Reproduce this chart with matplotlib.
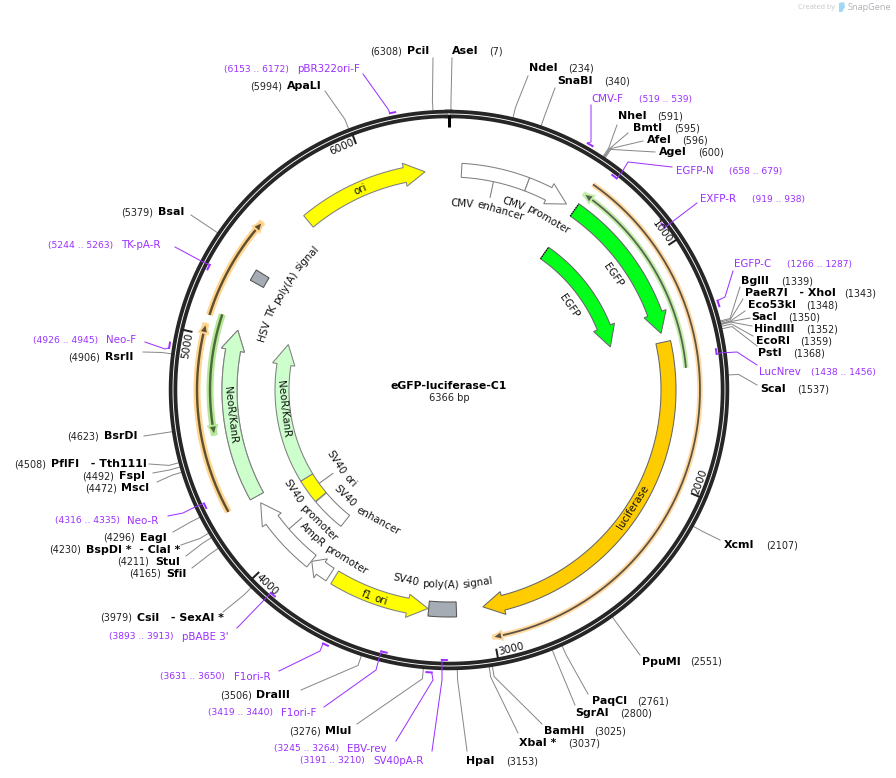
import numpy as np
import matplotlib
matplotlib.use("Agg")
import matplotlib.pyplot as plt
from matplotlib.font_manager import FontProperties
from matplotlib.patches import Polygon
from matplotlib.textpath import TextToPath

total_bp = 6366
plasmid_name = "eGFP-luciferase-C1"

# restriction sites
site_names = ["PciI", "AseI", "NdeI", "SnaBI", "NheI", "BmtI", "AfeI", "AgeI", "BglII",
              "PaeR7I   - XhoI", "Eco53kI", "SacI", "HindIII", "EcoRI", "PstI", "ScaI",
              "XcmI", "PpuMI", "PaqCI", "SgrAI", "BamHI", "XbaI *", "HpaI", "MluI", "DraIII",
              "CsiI   - SexAI *", "SfiI", "StuI", "BspDI *  - ClaI *", "EagI", "MscI", "FspI",
              "PflFI   - Tth111I", "BsrDI", "RsrII", "BsaI", "ApaLI"]
site_bp = [6308, 7, 234, 340, 591, 595, 596, 600, 1339, 1343, 1348, 1350, 1352, 1359, 1368,
           1537, 2107, 2551, 2761, 2800, 3025, 3037, 3153, 3276, 3506, 3979, 4165, 4211,
           4230, 4296, 4472, 4492, 4508, 4623, 4906, 5379, 5994]
site_name_x = [407, 452, 529, 557, 618, 633, 647, 659, 741, 745, 748, 751, 754, 756, 758,
               760, 724, 642, 592, 575, 544, 519, 466, 325, 256, 137, 166, 155, 86, 140,
               121, 119, 51, 104, 105, 158, 287]
site_num_x = [370, 489, 568, 604, 657, 674, 682, 698, 781, 844, 806, 788, 806, 800, 793,
              797, 766, 690, 637, 620, 594, 568, 506, 289, 220, 100, 129, 117, 49, 103,
              85, 82, 14, 67, 68, 121, 250]
site_y = [51, 51, 68, 81, 116, 128, 140, 152, 281, 293, 305, 317, 329, 341, 353, 389, 545,
          662, 701, 713, 731, 743, 761, 731, 695, 618, 574, 562, 550, 538, 488, 476, 464,
          436, 357, 212, 86]
site_end_x = [433, 452, 528, 555, 617, 628, 643, 655, 740, 743, 745, 750, 752, 753, 757,
              757, 720, 640, 588, 575, 542, 518, 467, 357, 301, 223, 192, 186, 181, 173,
              157, 153, 149, 144, 143, 191, 325]
site_end_y = [58, 58, 76, 88, 125, 133, 141, 152, 287, 299, 311, 318, 326, 336, 346, 385,
              540, 655, 694, 705, 724, 733, 751, 724, 690, 612, 568, 556, 545, 532, 482,
              473, 464, 436, 352, 215, 91]

# primers
primer_names = ["pBR322ori-F", "CMV-F", "EGFP-N", "EXFP-R", "EGFP-C", "LucNrev", "Neo-F",
                "TK-pA-R", "Neo-R", "pBABE 3'", "F1ori-R", "F1ori-F", "EBV-rev", "SV40pA-R"]
primer_start = [6153, 519, 658, 919, 1266, 1438, 4926, 5244, 4316, 3893, 3631, 3419, 3245, 3191]
primer_end = [6172, 539, 679, 938, 1287, 1456, 4945, 5263, 4335, 3913, 3650, 3440, 3264, 3210]
primer_name_x = [297, 591, 676, 700, 734, 759, 106, 121, 127, 182, 234, 281, 347, 373]
primer_range_x = [224, 639, 729, 752, 787, 811, 33, 48, 55, 109, 160, 208, 274, 300]
primer_y = [69, 99, 171, 199, 264, 372, 340, 245, 521, 637, 677, 713, 749, 761]
primer_r = [283, 283, 270, 270, 283, 270, 283, 270, 270, 270, 283, 270, 283, 270]
primer_leaders = [[(363, 74), (388, 109)], [(591, 105), (591, 142)],
                  [(672, 167), (628, 162), (622, 172)], [(697, 203), (672, 222)],
                  [(733, 271), (725, 297)], [(757, 365), (737, 352), (720, 353)],
                  [(145, 342), (165, 349)], [(175, 247), (203, 262)],
                  [(168, 516), (183, 513), (197, 506)], [(237, 628), (267, 597)],
                  [(279, 671), (320, 651)], [(324, 707), (376, 670), (380, 655)],
                  [(396, 741), (433, 680)], [(432, 751), (442, 680), (442, 662)]]

# features on the map, from tail to tip
feature_tail = [58, 368, 617, 617, 1369, 3149, 3738, 3763, 3869, 3862, 4070, 4216, 4263, 4263,
                5286, 5662]
feature_tip = [368, 571, 1327, 1327, 3026, 3277, 3280, 3867, 4228, 4067, 4216, 5054, 5054, 5054,
               5339, 6255]
feature_has_head = [False, True, True, True, True, False, True, True, True, False, False,
                    True, True, True, False, True]
feature_r_in = [213, 213, 212, 160, 212, 212, 212, 212, 212, 160, 160, 160, 212, 212, 212, 212]
feature_r_out = [227, 227, 227, 174, 227, 227, 227, 227, 227, 174, 174, 174, 227, 227, 227, 227]
feature_color = ["white", "white", "#00ff19", "#00ff19", "#ffcc00", "#a6acb3", "#ffff00", "white",
                 "white", "white", "#ffff00", "#ccffcc", "#ccffcc", "#ccffcc", "#a6acb3", "#ffff00"]
feature_edge = ["#808080", "#808080", "#666666", "#666666", "#666666", "#555555", "#808080",
                "#808080", "#808080", "#808080", "#808080", "#808080", "#808080", "#808080",
                "#555555", "#808080"]
dotted_tails = [617]

# thin arcs with halo, from tail to tip
thin_tail = [619, 5082, 4263, 1497, 5101]
thin_tip = [3008, 5519, 5047, 608, 4580]
thin_r = [251, 251, 252, 238, 239]
thin_halo = ["#ffd9a0", "#ffd590", "#ffd590", "#c4eda8", "#b5e898"]
thin_core = ["#5f5443", "#5f5030", "#5f5030", "#556650", "#4f6a3a"]
thin_halo_w = [5.5, 7, 7, 5.5, 7]
thin_core_w = [1.8, 2.4, 2.4, 1.8, 2.4]

# labels following the circle
curve_labels = ["CMV enhancer", "CMV promoter", "EGFP", "EGFP", "luciferase", "ori",
                "HSV TK poly(A) signal", "NeoR/KanR", "NeoR/KanR", "SV40 ori", "SV40 enhancer",
                "SV40 promoter", "AmpR promoter", "f1 ori", "SV40 poly(A) signal"]
curve_angle = [12, 26.4, 55, 55, 122.5, 336, 301, 263.5, 263.5, 233.7, 214.4, 229, 216, 199.7, 181.8]
curve_r = [187, 197.7, 201, 147, 218, 220, 194, 219, 166, 134, 148, 185, 198, 220, 194]

# labels pointing from features
stem_bp = [213, 4143, 4050]
stem_r_from = [213, 160, 212]
stem_r_to = [197, 143, 195]

tick_bp = [1000, 2000, 3000, 4000, 5000, 6000]

cx, cy = 449, 390
RING_GREY = "#888888"
PURPLE = "#9b30ff"
PX = 72 / 100  # points per pixel at dpi 100

fig = plt.figure(figsize=(8.96, 7.78), dpi=100)
ax = fig.add_axes([0, 0, 1, 1])
ax.set_xlim(0, 896)
ax.set_ylim(778, 0)
ax.axis("off")


def bp_angle(bp):
    return np.radians(np.asarray(bp, dtype=float) / total_bp * 360)


def polar(bp, r):
    a = bp_angle(bp)
    return cx + r * np.sin(a), cy - r * np.cos(a)


def arc_xy(bp0, bp1, r, n=80):
    return polar(np.linspace(bp0, bp1, n), r)


def draw_feature(tail, tip, r_in, r_out, head, color, edge):
    r_mid = (r_in + r_out) / 2
    span = abs(tip - tail) / total_bp * 2 * np.pi * r_mid
    sign = 1 if tip > tail else -1
    head_px = min(20.5, span / 2) if head else 0
    base = tip - sign * head_px / (2 * np.pi * r_mid) * total_bp
    xo, yo = arc_xy(tail, base, r_out)
    xi, yi = arc_xy(base, tail, r_in)
    pts = list(zip(xo, yo))
    if head:
        pts.append(polar(base, r_out + 4.5))
        pts.append(polar(tip, r_mid))
        pts.append(polar(base, r_in - 4))
    pts += list(zip(xi, yi))
    ax.add_patch(Polygon(pts, closed=True, fc=color, ec=edge, lw=0.75, zorder=3))


def draw_thin(tail, tip, r, halo, core, halo_w, core_w):
    sign = 1 if tip > tail else -1
    x, y = arc_xy(tail, tip, r, 200)
    ax.plot(x, y, color=halo, lw=halo_w * PX, solid_capstyle="butt", zorder=2)
    base = tip - sign * 10 / (2 * np.pi * r) * total_bp
    neck = tip - sign * 8 / (2 * np.pi * r) * total_bp
    x2, y2 = arc_xy(tail, neck, r, 200)
    ax.plot(x2, y2, color=core, lw=core_w * PX, solid_capstyle="butt", zorder=3)
    pts = [polar(base, r + 4.5), polar(tip, r), polar(base, r - 4.5)]
    ax.add_patch(Polygon(pts, closed=True, fc=core, ec=halo, lw=1.4, zorder=3, joinstyle="miter"))


ttp = TextToPath()


def text_px(s, size):
    w, _, _ = ttp.get_text_width_height_descent(s, FontProperties(family="DejaVu Sans", size=size), False)
    return w / PX


def curved_label(s, angle, r, size=7.4, color="#111111"):
    # one straight piece per word, each turned to the circle
    flip = 90 < angle % 360 < 270
    full = text_px(s, size)
    pos = 0
    for word in s.split(" "):
        start = text_px(s[:pos], size) if pos else 0
        mid = start + text_px(word, size) / 2 - full / 2
        da = np.degrees(mid / r)
        th = angle - da if flip else angle + da
        base_off = 0.36 * size / PX
        rb = r + base_off if flip else r - base_off
        x = cx + rb * np.sin(np.radians(th))
        y = cy - rb * np.cos(np.radians(th))
        rot = 180 - th if flip else -th
        ax.text(x, y, word, fontsize=size, color=color, ha="center", va="baseline",
                rotation=rot, rotation_mode="anchor", zorder=6)
        pos += len(word) + 1


# ring
ring_a = np.linspace(0, 2 * np.pi, 720)
ax.plot(cx + 276 * np.sin(ring_a), cy - 276 * np.cos(ring_a), color="#262626", lw=8.5 * PX, zorder=4)
ax.plot(cx + 276 * np.sin(ring_a), cy - 276 * np.cos(ring_a), color="white", lw=0.9 * PX, zorder=4)

# ticks
x0, y0 = polar([0, 0], [263, 275])
ax.plot(x0, y0, color="black", lw=3 * PX, solid_capstyle="butt", zorder=4)
for t in tick_bp:
    tx, ty = polar([t, t], [263, 275])
    ax.plot(tx, ty, color="#222222", lw=2 * PX, solid_capstyle="butt", zorder=4)
    curved_label(str(t), t / total_bp * 360 - 3.1, 266, size=7.5)

# site labels and leaders
for name, bp, nx, numx, y, ex, ey in zip(site_names, site_bp, site_name_x, site_num_x, site_y,
                                         site_end_x, site_end_y):
    px0, py0 = polar(bp, 280)
    px1, py1 = polar(bp, 290)
    ax.plot([px0, px1, ex], [py0, py1, ey], color=RING_GREY, lw=1 * PX, zorder=1)
    ax.text(nx, y, name, fontsize=7.9, fontweight="bold", color="black", ha="left", va="center")
    ax.text(numx, y, "(%d)" % bp, fontsize=6.9, color="#222222", ha="left", va="center")

# primer labels, ticks and leaders
for name, s, e, nx, rx, y, r, leader in zip(primer_names, primer_start, primer_end, primer_name_x,
                                            primer_range_x, primer_y, primer_r, primer_leaders):
    tx, ty = arc_xy(s, e, r, 8)
    ax.plot(tx, ty, color=PURPLE, lw=2 * PX, solid_capstyle="projecting", zorder=5)
    lx = [p[0] for p in leader]
    ly = [p[1] for p in leader]
    d0 = (tx[0] - lx[-1]) ** 2 + (ty[0] - ly[-1]) ** 2
    d1 = (tx[-1] - lx[-1]) ** 2 + (ty[-1] - ly[-1]) ** 2
    if d0 < d1:
        lx.append(tx[0])
        ly.append(ty[0])
    else:
        lx.append(tx[-1])
        ly.append(ty[-1])
    ax.plot(lx, ly, color=PURPLE, lw=1 * PX, zorder=5)
    ax.text(nx, y, name, fontsize=7.4, color=PURPLE, ha="left", va="center")
    ax.text(rx, y, "(%d .. %d)" % (s, e), fontsize=6.6, color=PURPLE, ha="left", va="center")

# thin arcs
for tail, tip, r, halo, core, hw, cw in zip(thin_tail, thin_tip, thin_r, thin_halo, thin_core,
                                            thin_halo_w, thin_core_w):
    draw_thin(tail, tip, r, halo, core, hw, cw)

# features
for tail, tip, head, ri, ro, col, edge in zip(feature_tail, feature_tip, feature_has_head, feature_r_in,
                                              feature_r_out, feature_color, feature_edge):
    draw_feature(tail, tip, ri, ro, head, col, edge)
    if tail in dotted_tails:
        dx, dy = polar([tail, tail], [ri, ro])
        ax.plot(dx, dy, color="black", lw=1.2 * PX, ls=(0, (1, 1)), zorder=4)

for s, r0, r1 in zip(stem_bp, stem_r_from, stem_r_to):
    sx, sy = polar([s, s], [r0, r1])
    ax.plot(sx, sy, color="#777777", lw=1 * PX, zorder=2)

for label, ang, r in zip(curve_labels, curve_angle, curve_r):
    curved_label(label, ang, r)

# centre title
ax.text(448.5, 385.5, plasmid_name, fontsize=7.85, fontweight="bold", ha="center", va="center", color="black")
ax.text(449.5, 397.5, "%d bp" % total_bp, fontsize=7.1, ha="center", va="center", color="#222222")

# SnapGene mark
ax.text(798, 7.5, "Created by", fontsize=5.2, color="#c2c6ca", family="Open Sans", ha="left", va="center")
ax.add_patch(Polygon([(839, 3), (844, 2), (845, 7), (842, 12), (839, 12)], closed=True,
                     fc="#9fd8f5", ec="none"))
ax.text(848, 7.5, "SnapGene", fontsize=6.6, color="#aeb3b8", family="Open Sans", ha="left", va="center")

fig.savefig("out.png", dpi=100)
